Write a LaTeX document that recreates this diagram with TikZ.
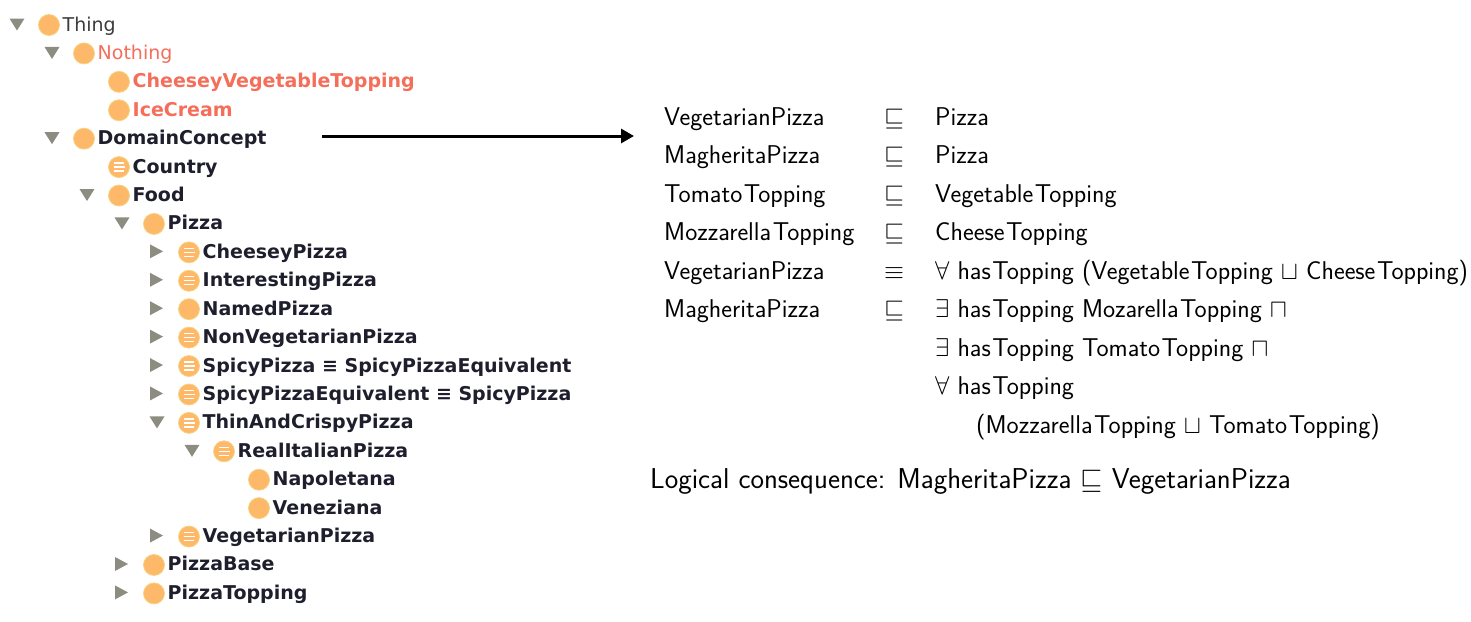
\RequirePackage{fix-cm}
\documentclass[tikz,border=0pt]{standalone}
\usepackage{fontspec}
\usepackage{graphicx}
\usetikzlibrary{arrows.meta}
\newfontfamily\treefont{DejaVu Sans}
\definecolor{orF}{HTML}{FDB86A}
\definecolor{orB}{HTML}{F7D37E}
\definecolor{triC}{HTML}{8C8C80}
\definecolor{redT}{HTML}{F46E5A}
\definecolor{darkT}{HTML}{1E1E2C}
\definecolor{grayT}{HTML}{3C3C3C}
\tikzset{
  treetxt/.style={anchor=base west, inner sep=0pt, font=\fontsize{19}{22}\selectfont\treefont\bfseries, text=darkT},
  redtxt/.style={treetxt, text=redT},
  plaintxt/.style={treetxt, font=\fontsize{19}{22}\selectfont\treefont},
  dltxt/.style={anchor=base west, inner sep=0pt, font=\fontsize{25.7}{30}\selectfont\sffamily},
  dlsym/.style={anchor=base, inner sep=0pt, font=\fontsize{25.7}{30}\selectfont\sffamily},
  lctxt/.style={anchor=base west, inner sep=0pt, font=\fontsize{28.7}{32}\selectfont\sffamily},
  tri/.style={fill=triC},
  icon/.style={fill=orF, draw=orB, line width=0.8pt},
}
% #1 row, #2 level, #3 expander (d/r/n), #4 icon (c/e), #5 style, #6 name, #7 text
\newcommand\trow[7]{%
  \pgfmathsetmacro\ry{24+28.42*#1}%
  \pgfmathsetmacro\rx{35*#2}%
  \if d#3\fill[tri] (\rx+9.5,\ry-5.5) -- (\rx+24.5,\ry-5.5) -- (\rx+17,\ry+6.5) -- cycle;\fi
  \if r#3\fill[tri] (\rx+10,\ry-7) -- (\rx+23,\ry) -- (\rx+10,\ry+7) -- cycle;\fi
  \draw[icon] (\rx+49,\ry+1) circle[radius=10.5];
  \if e#4\draw[white, line width=1.3pt] (\rx+44,\ry-3) -- (\rx+54,\ry-3) (\rx+43.5,\ry+1) -- (\rx+54.5,\ry+1) (\rx+44,\ry+5) -- (\rx+54,\ry+5);\fi
  \node[#5] (#6) at (\rx+62.5,\ry+7) {#7};%
}
\newcommand\Tp{\kern0.06em Topping}
\begin{document}
\begin{tikzpicture}[x=1pt,y=-1pt]
\useasboundingbox (0,0) rectangle (1471,621);
\trow{0}{0}{d}{c}{plaintxt, text=grayT}{thing}{Thing}
\trow{1}{1}{d}{c}{plaintxt, text=redT}{nothing}{Nothing}
\trow{2}{2}{n}{c}{redtxt}{cvt}{CheeseyVegetableTopping}
\trow{3}{2}{n}{c}{redtxt}{icecream}{IceCream}
\trow{4}{1}{d}{c}{treetxt}{domain}{DomainConcept}
\trow{5}{2}{n}{e}{treetxt}{country}{Country}
\trow{6}{2}{d}{c}{treetxt}{food}{Food}
\trow{7}{3}{d}{c}{treetxt}{pizza}{Pizza}
\trow{8}{4}{r}{e}{treetxt}{cheesey}{CheeseyPizza}
\trow{9}{4}{r}{e}{treetxt}{interesting}{InterestingPizza}
\trow{10}{4}{r}{c}{treetxt}{named}{NamedPizza}
\trow{11}{4}{r}{e}{treetxt}{nonveg}{NonVegetarianPizza}
\trow{12}{4}{r}{e}{treetxt}{spicy}{SpicyPizza ≡ SpicyPizzaEquivalent}
\trow{13}{4}{r}{e}{treetxt}{spicyeq}{SpicyPizzaEquivalent ≡ SpicyPizza}
\trow{14}{4}{d}{e}{treetxt}{thin}{ThinAndCrispyPizza}
\trow{15}{5}{d}{e}{treetxt}{realit}{RealItalianPizza}
\trow{16}{6}{n}{c}{treetxt}{napoletana}{Napoletana}
\trow{17}{6}{n}{c}{treetxt}{veneziana}{Veneziana}
\trow{18}{4}{r}{e}{treetxt}{veg}{VegetarianPizza}
\trow{19}{3}{r}{c}{treetxt}{base}{PizzaBase}
\trow{20}{3}{r}{c}{treetxt}{topping}{PizzaTopping}
% arrow
\coordinate (arrS) at (322,136);
\coordinate (arrE) at (634,136);
\draw[line width=3pt, -{Triangle[length=13pt,width=14pt]}] (arrS) -- (arrE);
% axioms
\node[dltxt] (l1) at (664,125) {VegetarianPizza};
\node[dlsym] (s1) at (894,125) {$\sqsubseteq$};
\node[dltxt] (r1) at (935,125) {Pizza};
\node[dltxt] (l2) at (664,163.5) {MagheritaPizza};
\node[dlsym] (s2) at (894,163.5) {$\sqsubseteq$};
\node[dltxt] (r2) at (935,163.5) {Pizza};
\node[dltxt] (l3) at (664,202) {Tomato\Tp};
\node[dlsym] (s3) at (894,202) {$\sqsubseteq$};
\node[dltxt] (r3) at (935,202) {Vegetable\Tp};
\node[dltxt] (l4) at (664,240.5) {Mozzarella\Tp};
\node[dlsym] (s4) at (894,240.5) {$\sqsubseteq$};
\node[dltxt] (r4) at (935,240.5) {Cheese\Tp};
\node[dltxt] (l5) at (664,279) {VegetarianPizza};
\node[dlsym] (s5) at (894,279) {$\equiv$};
\node[dltxt] (r5) at (935,279) {$\forall$ has\Tp{} (Vegetable\Tp{} $\sqcup$ Cheese\Tp)};
\node[dltxt] (l6) at (664,317.5) {MagheritaPizza};
\node[dlsym] (s6) at (894,317.5) {$\sqsubseteq$};
\node[dltxt] (r6) at (935,317.5) {$\exists$ has\Tp{} Mozarella\Tp{} $\sqcap$};
\node[dltxt] (r7) at (935,356) {$\exists$ has\Tp{} Tomato\Tp{} $\sqcap$};
\node[dltxt] (r8) at (935,394.5) {$\forall$ has\Tp};
\node[dltxt] (r9) at (976,433) {(Mozzarella\Tp{} $\sqcup$ Tomato\Tp)};
\node[lctxt] (lc) at (650,488) {Logical consequence: MagheritaPizza $\sqsubseteq$ VegetarianPizza};
\end{tikzpicture}
\end{document}
